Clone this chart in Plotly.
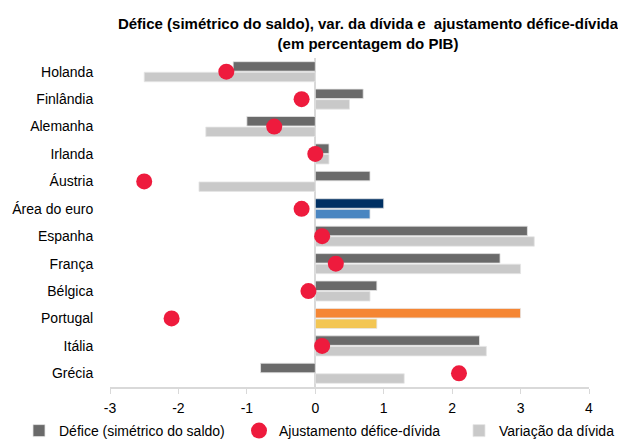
import plotly.graph_objects as go

categories = ["Holanda", "Finlândia", "Alemanha", "Irlanda", "Áustria", "Área do euro",
              "Espanha", "França", "Bélgica", "Portugal", "Itália", "Grécia"]
defice = [-1.2, 0.7, -1.0, 0.2, 0.8, 1.0, 3.1, 2.7, 0.9, 3.0, 2.4, -0.8]
variacao = [-2.5, 0.5, -1.6, 0.2, -1.7, 0.8, 3.2, 3.0, 0.8, 0.9, 2.5, 1.3]
ajustamento = [-1.3, -0.2, -0.6, 0.0, -2.5, -0.2, 0.1, 0.3, -0.1, -2.1, 0.1, 2.1]
x_ticks = [-3, -2, -1, 0, 1, 2, 3, 4]
x_tick_labels = ["-3", "-2", "-1", "0", "1", "2", "3", "4"]
series_names = ["Défice (simétrico do saldo)", "Ajustamento défice-dívida", "Variação da dívida"]

def_colors = []
var_colors = []
for c in categories:
    if c == "Área do euro":
        def_colors.append("#003063"); var_colors.append("#4a86c1")
    elif c == "Portugal":
        def_colors.append("#f58634"); var_colors.append("#f3c653")
    else:
        def_colors.append("#6a6a6a"); var_colors.append("#c9c9c9")

FONT = "Liberation Sans, Arial, sans-serif"
W, H = 626, 441

fig = go.Figure()
fig.add_trace(go.Bar(
    y=categories, x=defice, orientation="h", name=series_names[0], legend="legend",
    marker=dict(color=def_colors, line=dict(color="#e6e6e6", width=0.8)),
))
fig.add_trace(go.Scatter(
    y=categories, x=ajustamento, mode="markers", name=series_names[1], legend="legend2",
    marker=dict(color="#ee1b3d", size=16, line=dict(width=0)),
))
fig.add_trace(go.Bar(
    y=categories, x=variacao, orientation="h", name=series_names[2], legend="legend3",
    marker=dict(color=var_colors, line=dict(color="#e6e6e6", width=0.8)),
))

def leg(xpx):
    return dict(
        orientation="h", x=xpx / W, xref="container", xanchor="left",
        y=(H - 423) / H, yref="container", yanchor="middle",
        font=dict(size=14, family=FONT), itemwidth=30, bgcolor="rgba(0,0,0,0)",
    )

fig.update_layout(
    width=W, height=H,
    margin=dict(l=102, r=45, t=50, b=62, autoexpand=False),
    paper_bgcolor="white", plot_bgcolor="white",
    barmode="group", bargap=0.23, bargroupgap=0.1,
    font=dict(family=FONT, size=14, color="#000000"),
    title=dict(
        text="<b>Défice (simétrico do saldo), var. da dívida e  ajustamento défice-dívida<br>(em percentagem do PIB)</b>",
        x=360 / W, xanchor="center", xref="container",
        y=1 - 21 / H, yanchor="middle", yref="container",
        font=dict(family=FONT, size=15, color="#000000"),
    ),
    xaxis=dict(
        range=[-3, 4], tickvals=x_ticks, ticktext=x_tick_labels, showgrid=False,
        zeroline=True, zerolinecolor="#d9d9d9", zerolinewidth=1.5,
        showline=True, linecolor="#d9d9d9", linewidth=1.5,
        ticks="outside", ticklen=5, tickcolor="#d9d9d9",
        ticklabelstandoff=2,
        tickfont=dict(size=14),
    ),
    yaxis=dict(
        range=[11.5, -0.5], autorange=False,
        showgrid=False, zeroline=False, showline=False,
        ticks="outside", ticklen=13, tickcolor="rgba(0,0,0,0)",
        tickfont=dict(size=14),
    ),
    legend=leg(11),
    legend2=leg(231),
    legend3=leg(451),
    showlegend=True,
)

fig.write_html("out.html")
